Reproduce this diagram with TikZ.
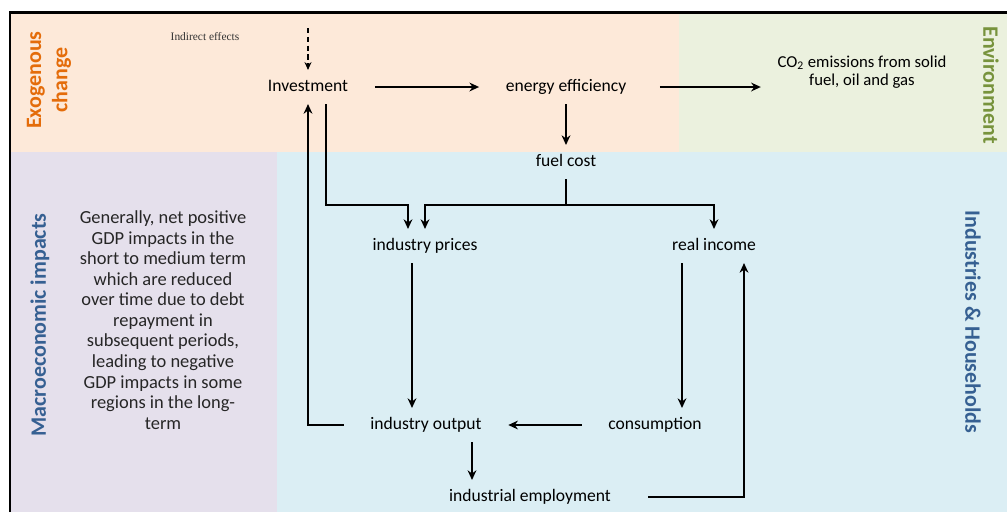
\documentclass[tikz,border=0pt]{standalone}
\usepackage{fontspec}
\setmainfont{Carlito}
\newfontfamily\notefont{Liberation Serif}
\usetikzlibrary{arrows.meta, positioning, calc}
\definecolor{exocol}{HTML}{FDE9D9}
\definecolor{envcol}{HTML}{EBF1DE}
\definecolor{macrocol}{HTML}{E5E0EC}
\definecolor{hhcol}{HTML}{DBEEF4}
\definecolor{exotxt}{HTML}{E46C0A}
\definecolor{envtxt}{HTML}{77933C}
\definecolor{hhtxt}{HTML}{366092}

\begin{document}
\begin{tikzpicture}[x=0.02cm, y=-0.02cm,
  var/.style={inner xsep=15pt, inner ysep=5pt, text height=7pt, text depth=2pt,
    font=\fontsize{10}{12}\selectfont},
  side/.style={font=\fontsize{12.5}{15}\selectfont\bfseries, align=center},
  note/.style={font=\fontsize{10.5}{11.7}\selectfont, align=center, text=black!85},
  conn/.style={-{Stealth[length=5.5pt, width=5pt]}, line width=1.1pt},
  hint/.style={-{Stealth[length=4.5pt, width=4pt]}, line width=0.6pt,
    dash pattern=on 3pt off 2pt}
]
\useasboundingbox (0,0) rectangle (1007,512);

% ============ PANELS ============
\fill[exocol] (10,12) rectangle (679,152);
\fill[envcol] (679,12) rectangle (1007,152);
\fill[macrocol] (10,152) rectangle (277,512);
\fill[hhcol] (277,152) rectangle (1007,512);
\draw[line width=1.7pt] (10,512) -- (10,12) -- (1007,12);

% panel titles
\node[side, rotate=90, text=exotxt] (exo) at (49,80) {Exogenous\\change};
\node[side, rotate=-90, text=envtxt] (env) at (991,85) {Environment};
\node[side, rotate=90, text=hhtxt] (macro) at (40,325) {Macroeconomic impacts};
\node[side, rotate=-90, text=hhtxt] (hh) at (973,322) {Industries \& Households};

\node[note] (gdp) at (163,320) {Generally, net positive\\GDP impacts in the\\short to medium term\\which are reduced\\over time due to debt\\repayment in\\subsequent periods,\\leading to negative\\GDP impacts in some\\regions in the long-\\term};

% ============ TOP ROW ============
\node[font=\notefont\fontsize{6.5}{7}\selectfont, text=black!80] (indir) at (205,37) {Indirect effects};
\coordinate (indtop) at (308,28);

\node[var] (inv) at (308,87) {Investment};
\node[var] (eff) at (566,87) {energy efficiency};
\node[font=\fontsize{9.5}{10}\selectfont, align=center] (co2) at (862,72)
  {CO\textsubscript{2} emissions from solid\\fuel, oil and gas};
\node[var] (fuel) at (566,162) {fuel cost};

\draw[hint] (indtop) -- (inv);
\draw[conn] (inv) -- (eff);
\draw[conn, shorten <=4pt, shorten >=6pt] (eff.east) -- (eff.east -| co2.west);
\draw[conn] (eff) -- (fuel);

% ============ INDUSTRIES & HOUSEHOLDS ============
\node[var] (prices) at (425,246) {industry prices};
\node[var] (income) at (714,246) {real income};
\node[var] (output) at (426,425) {industry output};
\node[var] (cons) at (655,425) {consumption};
\node[var] (emp) at (530,497) {industrial employment};

\coordinate (bus) at (0,205);
\coordinate (invr) at ($(inv.south)+(18,0)$);
\coordinate (pricl) at ($(prices.north)+(-17,0)$);
\coordinate (pricd) at ($(prices.south)+(-13,0)$);
\coordinate (incl) at ($(income.south)+(-32,0)$);
\coordinate (incr) at ($(income.south)+(30,0)$);
\coordinate (outr) at ($(output.south)+(46,0)$);

% fuel cost splits to prices and income
\draw[conn] (fuel.south) -- (fuel.south |- bus) -| (prices.north);
\draw[conn] (fuel.south |- bus) -| (income.north);
% investment feeds prices
\draw[conn] (invr) |- (pricl |- bus) -- (pricl);

\draw[conn] (pricd) -- (pricd |- output.north);
\draw[conn] (incl) -- (incl |- cons.north);
\draw[conn] (cons) -- (output);
\draw[conn] (output.west) -| (inv.south);
\draw[conn] (outr) -- (outr |- emp.north);
\draw[conn, shorten <=6pt] (emp.east) -| (incr);

\end{tikzpicture}
\end{document}
